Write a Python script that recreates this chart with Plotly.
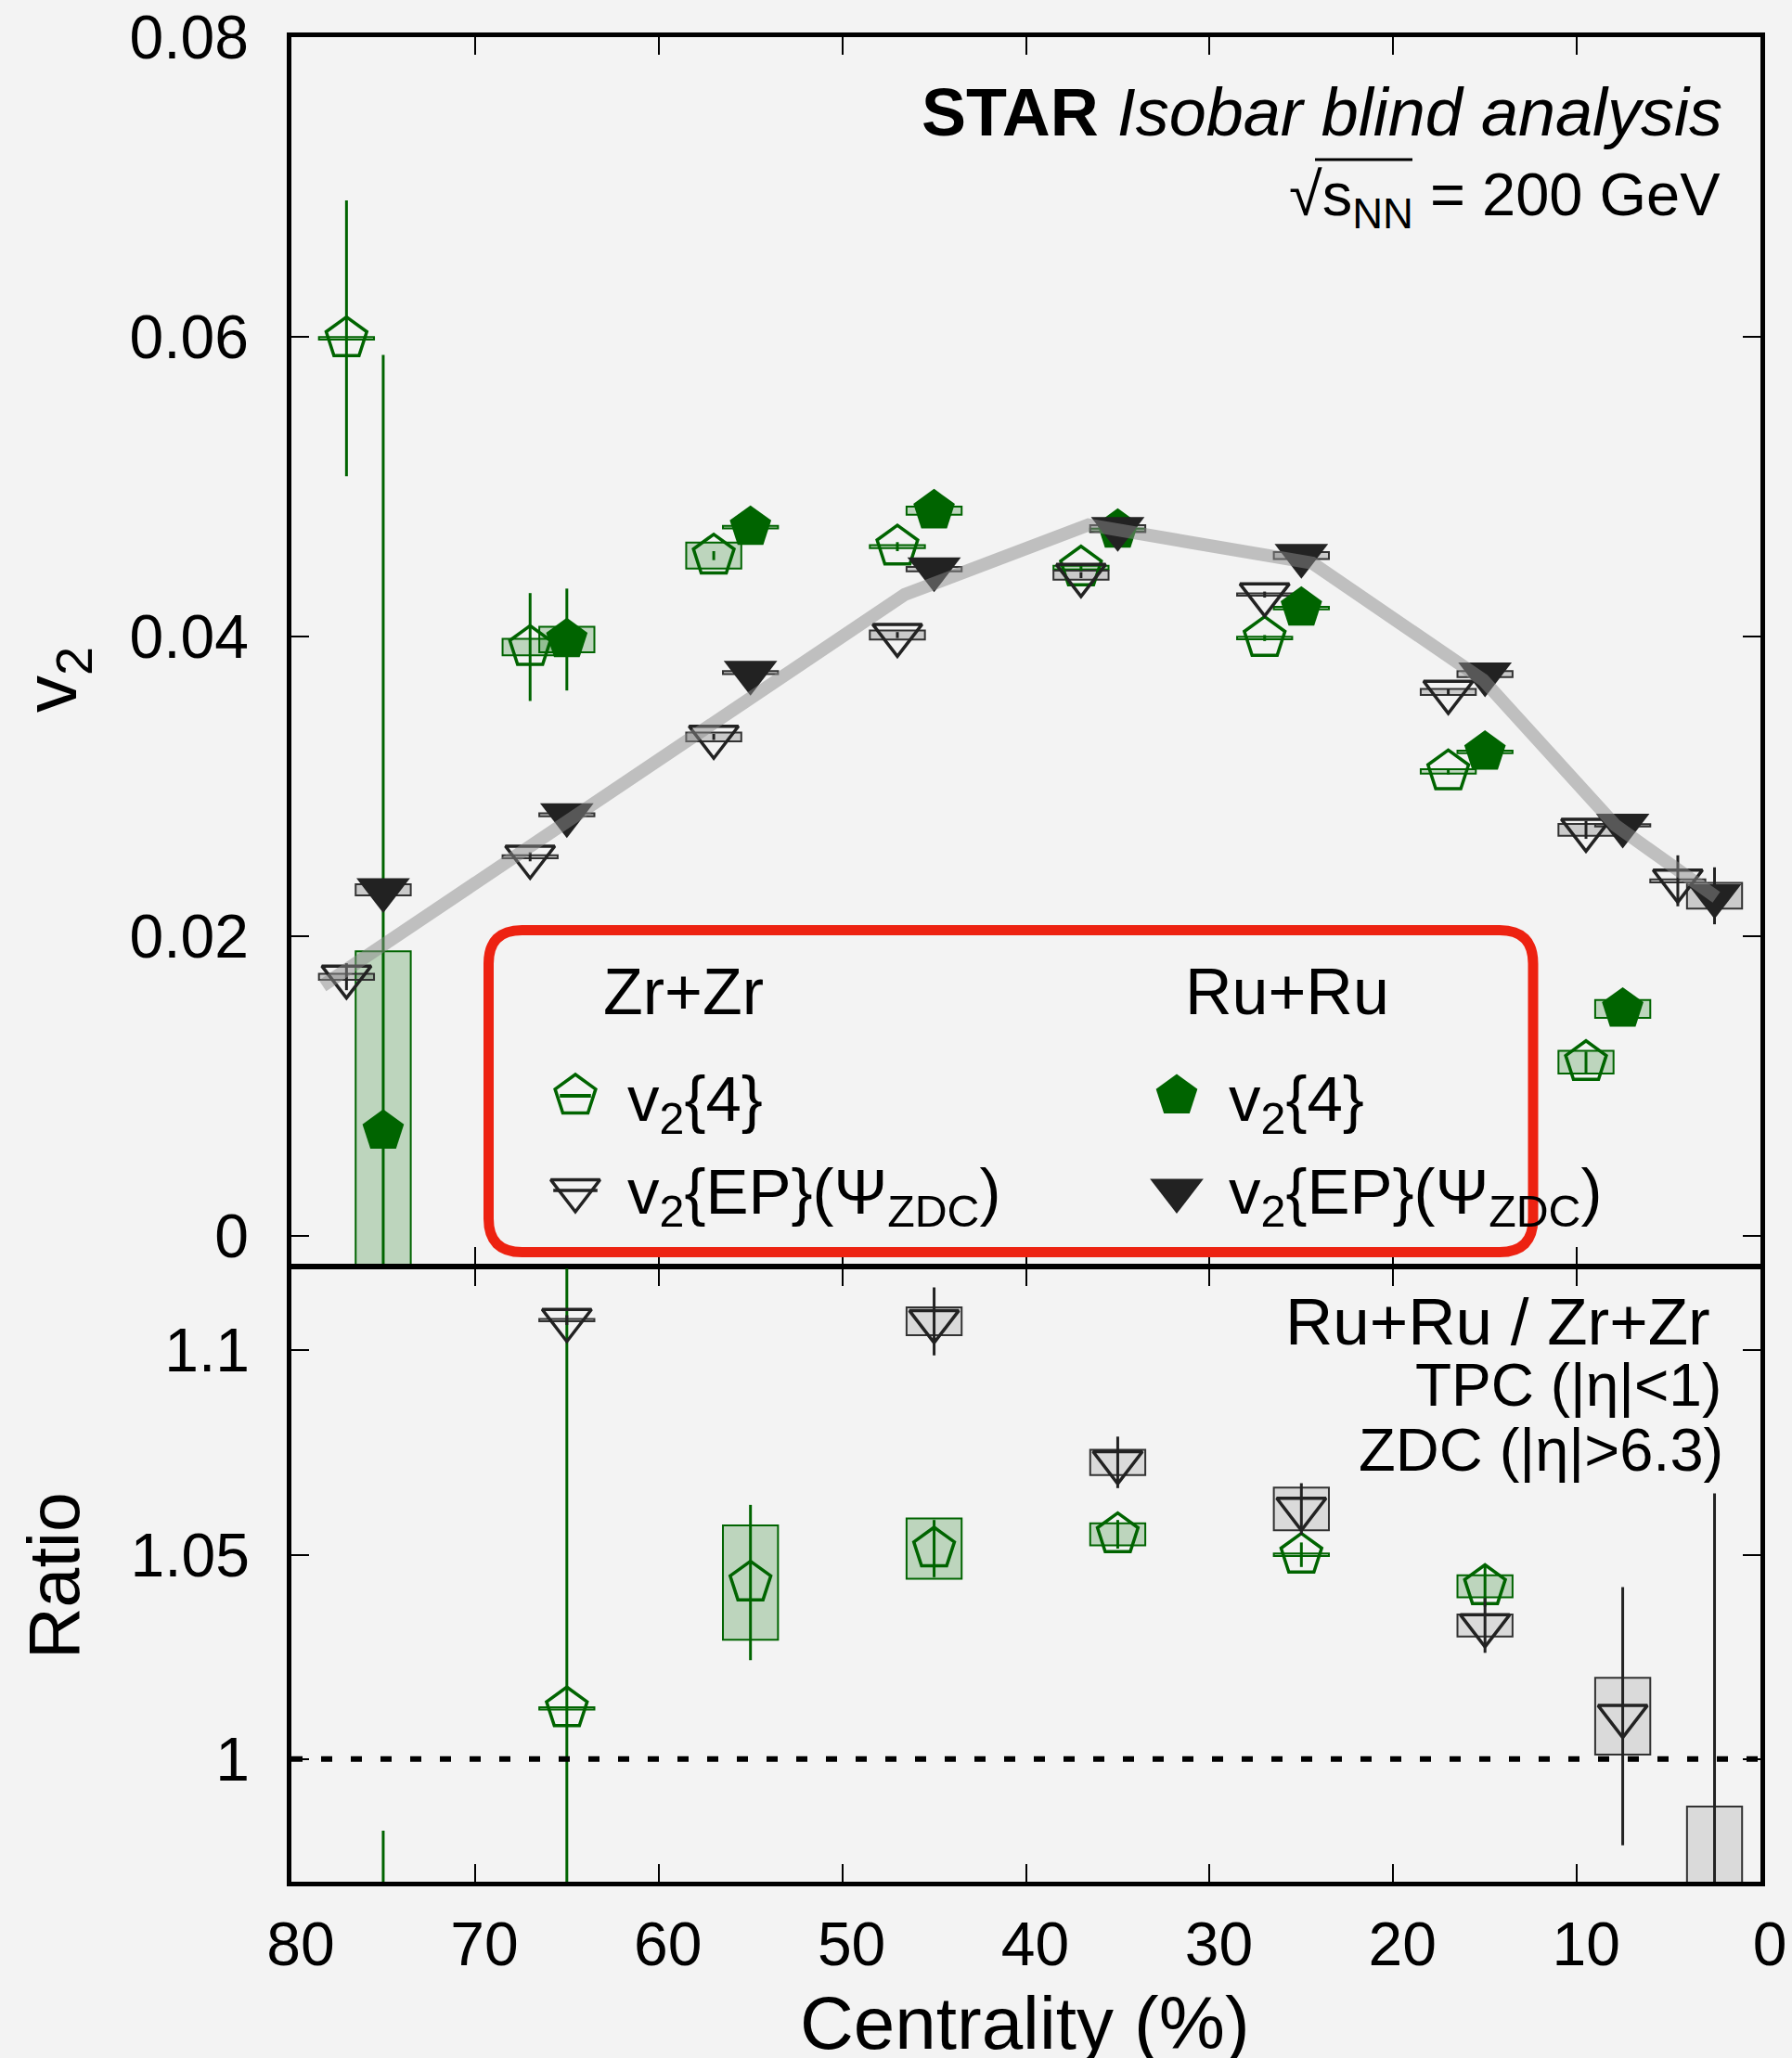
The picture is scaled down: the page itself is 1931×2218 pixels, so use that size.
import plotly.graph_objects as go

W, H = 1931, 2218
FONT = "Liberation Sans, Arial, Helvetica, sans-serif"

# ---------------------------------------------------------------- data
# centrality bin centres (%)
cent = [75, 65, 55, 45, 35, 25, 15, 7.5, 2.5]
ZR_SHIFT = 2.0  # Zr+Zr points are displaced so they do not hide Ru+Ru

# Zr+Zr
zr_v24 = [0.0599, 0.0393, 0.0454, 0.0460, 0.0446, 0.0399, 0.0310, 0.0116, None]
zr_v24_stat = [0.0092, 0.0036, 0.0003, 0.0003, 0.0002, 0.0002, 0.0002, 0.0007, None]
zr_v24_sys = [0.00008, 0.00055, 0.00087, 0.0001, 0.00012, 0.00008, 0.00015, 0.00076, None]

zr_ep = [0.0173, 0.0253, 0.0333, 0.0401, 0.0441, 0.0428, 0.0363, 0.0271, 0.0237]
zr_ep_stat = [0.0009, 0.0003, 0.0002, 0.0002, 0.0002, 0.0002, 0.0002, 0.0006, 0.0017]
zr_ep_sys = [0.0002, 0.0001, 0.0003, 0.0003, 0.0003, 0.00008, 0.0002, 0.0004, 0.0001]

# Ru+Ru
ru_v24 = [0.0070, 0.0398, 0.0473, 0.0484, 0.0471, 0.0419, 0.0323, 0.01515, None]
ru_v24_stat = [0.0518, 0.0034, 0.0002, 0.0002, 0.0002, 0.0002, 0.0002, 0.0004, None]
ru_v24_sys = [0.0120, 0.00085, 0.00008, 0.00027, 0.0001, 0.00008, 0.00008, 0.0006, None]

ru_ep = [0.0231, 0.0281, 0.0376, 0.0445, 0.0472, 0.0454, 0.0375, 0.0274, 0.0227]
ru_ep_stat = [0.0005, 0.0002, 0.0002, 0.0002, 0.0002, 0.0002, 0.0002, 0.0003, 0.0019]
ru_ep_sys = [0.00037, 0.0001, 0.0001, 0.00015, 0.00023, 0.00023, 0.0002, 0.00008, 0.00086]

# reference curve (grey band)
band_cent = [78.3, 46.6, 36.6, 24.4, 15.1, 7.9, 2.4]
band_v2 = [0.0167, 0.0428, 0.04745, 0.0449, 0.0371, 0.0274, 0.0226]

# Ru+Ru / Zr+Zr ratios
ratio_v24 = [0.1165, 1.0124, 1.0432, 1.0515, 1.0550, 1.0500, 1.0423, 1.306, None]
ratio_v24_stat = [0.866, 0.13, 0.019, 0.0070, 0.0035, 0.0030, 0.0050, 0.10, None]
ratio_v24_sys = [0.20, 0.0003, 0.0140, 0.0074, 0.0027, 0.0003, 0.0027, 0.05, None]

ratio_ep = [1.335, 1.1074, 1.131, 1.1071, 1.0726, 1.0612, 1.0327, 1.0105, 0.958]
ratio_ep_stat = [0.03, 0.0012, 0.002, 0.0083, 0.0063, 0.0063, 0.0067, 0.0316, 0.107]
ratio_ep_sys = [0.02, 0.0003, 0.003, 0.0034, 0.0031, 0.0052, 0.0027, 0.0094, 0.0304]

x_ticks = [80, 70, 60, 50, 40, 30, 20, 10, 0]
v2_ticks = [0, 0.02, 0.04, 0.06, 0.08]
v2_ticktext = ["0", "0.02", "0.04", "0.06", "0.08"]
ratio_ticks = [1.0, 1.05, 1.1]
ratio_ticktext = ["1", "1.05", "1.1"]

# ---------------------------------------------------------------- layout geometry (pixels)
LW = 4.5                          # frame line width
PX_L, PX_R = 314, 1897
PX_TOP, PX_MID, PX_BOT = 40, 1365, 2028
XD = [PX_L / W, PX_R / W]
# panels touch so that their shared frame lines coincide
YU = [(H - (PX_MID - LW / 2)) / H, (H - PX_TOP) / H]
YL = [(H - PX_BOT) / H, (H - (PX_MID + LW / 2)) / H]

GREEN = "rgb(0,100,0)"
DARK = "rgb(34,34,34)"
GREEN_BOX = "rgba(0,110,0,0.22)"
GREY_BOX = "rgba(0,0,0,0.17)"
GREY_BOX_R = "rgba(0,0,0,0.10)"

zr_x = [c + ZR_SHIFT for c in cent]


def sys_boxes(xs, vals, sys, fill, edge, xa, ya, lw=2):
    xb, hb, bb = [], [], []
    for x, v, s in zip(xs, vals, sys):
        if v is None:
            continue
        xb.append(x)
        hb.append(2 * s)
        bb.append(v - s)
    return go.Bar(x=xb, y=hb, base=bb, width=3, xaxis=xa, yaxis=ya,
                  marker=dict(color=fill, line=dict(color=edge, width=lw)),
                  showlegend=False, hoverinfo="skip")


def points(xs, vals, stat, symbol, size, color, lw, xa, ya, name):
    return go.Scatter(x=xs, y=vals, mode="markers", name=name, xaxis=xa, yaxis=ya,
                      error_y=dict(type="data", array=stat, color=color,
                                   thickness=3, width=0),
                      marker=dict(symbol=symbol, size=size, color=color,
                                  line=dict(color=color, width=lw)),
                      showlegend=False)


fig = go.Figure()

# systematic boxes (upper panel)
fig.add_trace(sys_boxes(zr_x, zr_v24, zr_v24_sys, GREEN_BOX, GREEN, "x", "y"))
fig.add_trace(sys_boxes(cent, ru_v24, ru_v24_sys, GREEN_BOX, GREEN, "x", "y"))
fig.add_trace(sys_boxes(zr_x, zr_ep, zr_ep_sys, GREY_BOX, "rgb(50,50,50)", "x", "y"))
fig.add_trace(sys_boxes(cent, ru_ep, ru_ep_sys, GREY_BOX, "rgb(50,50,50)", "x", "y"))

# data points (upper panel)
fig.add_trace(points(zr_x, zr_v24, zr_v24_stat, "pentagon-open", 46, GREEN, 3.5, "x", "y", "Zr+Zr v2{4}"))
fig.add_trace(points(cent, ru_v24, ru_v24_stat, "pentagon", 47, GREEN, 0, "x", "y", "Ru+Ru v2{4}"))
fig.add_trace(points(zr_x, zr_ep, zr_ep_stat, "triangle-down-open", 46, DARK, 3.5, "x", "y", "Zr+Zr v2{EP}"))
fig.add_trace(points(cent, ru_ep, ru_ep_stat, "triangle-down", 50, DARK, 0, "x", "y", "Ru+Ru v2{EP}"))

# grey reference band on top
fig.add_trace(go.Scatter(x=band_cent, y=band_v2, mode="lines", xaxis="x", yaxis="y",
                         line=dict(color="rgb(140,140,140)", width=14),
                         opacity=0.5, showlegend=False, hoverinfo="skip"))

# ratio panel
fig.add_trace(sys_boxes(cent, ratio_v24, ratio_v24_sys, GREEN_BOX, GREEN, "x2", "y2"))
fig.add_trace(sys_boxes(cent, ratio_ep, ratio_ep_sys, GREY_BOX_R, "rgb(50,50,50)", "x2", "y2"))
fig.add_trace(points(cent, ratio_v24, ratio_v24_stat, "pentagon-open", 46, GREEN, 3.5, "x2", "y2", "ratio v2{4}"))
fig.add_trace(points(cent, ratio_ep, ratio_ep_stat, "triangle-down-open", 46, DARK, 3.5, "x2", "y2", "ratio v2{EP}"))

# ---------------------------------------------------------------- legend (drawn in pixel overlay)
LEG_COL_X = [620, 1268]          # symbol centres
LEG_TXT_X = [674, 1322]          # label starts
LEG_ROW_Y = [1181, 1283]
LEG_HEAD_X = [648, 1275]
LEG_HEAD_Y = 1069

# (symbol, size, colour, line width, column, row)
legend_keys = [
    ("pentagon-open", 46, GREEN, 3.5, 0, 0),
    ("line-ew-open", 24, GREEN, 4, 0, 0),
    ("pentagon", 47, GREEN, 0, 1, 0),
    ("triangle-down-open", 46, DARK, 3.5, 0, 1),
    ("line-ew-open", 34, DARK, 3.5, 0, 1),
    ("triangle-down", 50, DARK, 0, 1, 1),
]
for sym, sz, col, lw, ci, ri in legend_keys:
    fig.add_trace(go.Scatter(x=[LEG_COL_X[ci]], y=[LEG_ROW_Y[ri]], mode="markers",
                             xaxis="x3", yaxis="y3", showlegend=False, hoverinfo="skip",
                             marker=dict(symbol=sym, size=sz, color=col,
                                         line=dict(color=col, width=lw))))

ann = []


def text(x, y, s, size, xanchor="left", yanchor="middle", angle=0):
    ann.append(dict(x=x, y=y, xref="x3", yref="y3", text=s, showarrow=False,
                    xanchor=xanchor, yanchor=yanchor, textangle=angle,
                    font=dict(size=size, family=FONT, color="black")))


for hx, label in zip(LEG_HEAD_X, ["Zr+Zr", "Ru+Ru"]):
    text(hx, LEG_HEAD_Y, label, 70)
for tx in LEG_TXT_X:
    text(tx, LEG_ROW_Y[0] + 8, "v<sub>2</sub>{4}", 69)
    text(tx, LEG_ROW_Y[1] + 6, "v<sub>2</sub>{EP}(\u03a8<sub>ZDC</sub>)", 69)

# headline texts
text(1858, 121, "<b>STAR</b> <i>Isobar blind analysis</i>", 72, xanchor="right")
text(1856, 214, "\u221as<sub>NN</sub> = 200 GeV", 65, xanchor="right")
text(1845, 1424, "Ru+Ru / Zr+Zr", 71, xanchor="right")
text(1857, 1493, "TPC (|\u03b7|<1)", 64, xanchor="right")
text(1859, 1562, "ZDC (|\u03b7|>6.3)", 65, xanchor="right")

# axis titles
text(60, 733, "v<sub>2</sub>", 80, xanchor="center", angle=-90)
text(58, 1698, "Ratio", 77, xanchor="center", angle=-90)
text(1104, 2180, "Centrality (%)", 80, xanchor="center")

shapes = [
    # overline of the square root
    dict(type="line", xref="x3", yref="y3", x0=1417, x1=1522, y0=172, y1=172,
         line=dict(color="black", width=3)),
    # unity line in ratio panel
    dict(type="line", xref="x2", yref="y2", x0=80, x1=0, y0=1, y1=1,
         line=dict(color="black", width=6, dash="12px,20px")),
]

# rounded red frame around the legend
bx0, bx1, by0, by1, rr = 526.5, 1652, 1002.5, 1349.5, 36
path = (f"M{bx0 + rr},{by0} L{bx1 - rr},{by0} Q{bx1},{by0} {bx1},{by0 + rr} "
        f"L{bx1},{by1 - rr} Q{bx1},{by1} {bx1 - rr},{by1} "
        f"L{bx0 + rr},{by1} Q{bx0},{by1} {bx0},{by1 - rr} "
        f"L{bx0},{by0 + rr} Q{bx0},{by0} {bx0 + rr},{by0} Z")
shapes.append(dict(type="path", xref="x3", yref="y3", path=path,
                   line=dict(color="rgb(237,34,17)", width=11)))

ax_common = dict(showline=True, linecolor="black", linewidth=LW, mirror="ticks",
                 ticks="inside", ticklen=19, tickwidth=2, tickcolor="black",
                 showgrid=False, zeroline=False, automargin=False,
                 tickfont=dict(size=66, family=FONT, color="black"))

fig.update_layout(
    width=W, height=H, margin=dict(l=0, r=0, t=0, b=0, autoexpand=False),
    paper_bgcolor="#f3f3f3", plot_bgcolor="rgba(0,0,0,0)",
    barmode="overlay", showlegend=False,
    font=dict(family=FONT, color="black"),
    xaxis=dict(domain=XD, range=[80, 0], anchor="y", tickvals=x_ticks,
               showticklabels=False, **ax_common),
    yaxis=dict(domain=YU, range=[-0.0019, 0.08], anchor="x", tickvals=v2_ticks,
               ticktext=v2_ticktext, ticklabelstandoff=28, **ax_common),
    xaxis2=dict(domain=XD, range=[80, 0], anchor="y2", tickvals=x_ticks,
                ticktext=[str(t) for t in x_ticks], ticklabelstandoff=6,
                ticklabelshift=-10, **ax_common),
    yaxis2=dict(domain=YL, range=[0.97, 1.12], anchor="x2", tickvals=ratio_ticks,
                ticktext=ratio_ticktext, ticklabelstandoff=27, **ax_common),
    xaxis3=dict(domain=[0, 1], range=[0, W], anchor="y3", visible=False, fixedrange=True),
    yaxis3=dict(domain=[0, 1], range=[H, 0], anchor="x3", visible=False, fixedrange=True),
    annotations=ann, shapes=shapes,
)

fig.write_html("out.html")
